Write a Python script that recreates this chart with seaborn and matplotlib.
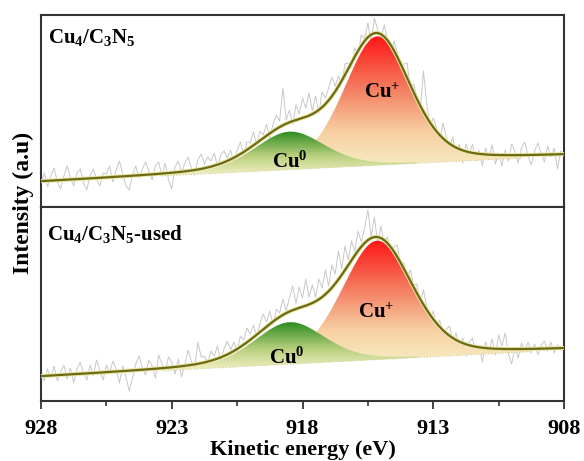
import numpy as np
import pandas as pd
import matplotlib
matplotlib.use("Agg")
import matplotlib.pyplot as plt
import matplotlib.patheffects as pe
from matplotlib.colors import LinearSegmentedColormap
import seaborn as sns

# ---------------------------------------------------------------- data
# kinetic-energy axis of the Cu LMM scan (0.125 eV step)
energy = np.linspace(928.0, 908.0, 161)

sample_labels = [r"$\mathbf{Cu_4/C_3N_5}$", r"$\mathbf{Cu_4/C_3N_5}$-used"]

# measured counts (a.u.)
raw_fresh = [
    23, 34, 20, 31, 39, 25, 18, 31, 41, 30,
    21, 34, 38, 24, 17, 31, 38, 28, 21, 34,
    33, 41, 25, 37, 46, 33, 21, 17, 32, 41,
    29, 38, 45, 36, 27, 41, 45, 31, 44, 27,
    18, 40, 46, 34, 44, 50, 39, 32, 47, 53,
    43, 50, 46, 54, 41, 52, 56, 49, 57, 45,
    57, 65, 52, 65, 64, 75, 62, 76, 72, 83,
    69, 83, 92, 86, 119, 87, 97, 83, 102, 93,
    109, 99, 114, 96, 111, 94, 115, 109, 119, 130,
    121, 131, 123, 143, 144, 139, 159, 153, 172, 168,
    184, 165, 189, 177, 169, 182, 167, 152, 166, 154,
    137, 143, 144, 119, 123, 110, 96, 136, 103, 81,
    89, 79, 67, 84, 70, 61, 70, 50, 63, 44,
    63, 53, 63, 46, 57, 41, 59, 49, 62, 43,
    54, 41, 57, 46, 63, 55, 44, 59, 65, 51,
    42, 56, 64, 54, 45, 61, 50, 59, 38, 56,
    51,
]
raw_used = [
    29, 20, 32, 23, 35, 20, 29, 36, 22, 33,
    18, 32, 39, 28, 21, 36, 25, 41, 30, 21,
    36, 28, 40, 32, 18, 35, 24, 10, 23, 37,
    45, 33, 26, 41, 35, 23, 46, 37, 30, 44,
    39, 27, 42, 24, 37, 51, 40, 32, 59, 44,
    45, 38, 50, 45, 55, 40, 52, 60, 51, 59,
    49, 65, 61, 73, 67, 76, 64, 78, 87, 79,
    90, 76, 92, 88, 102, 90, 103, 115, 98, 114,
    103, 122, 104, 116, 104, 122, 113, 131, 115, 136,
    127, 150, 132, 155, 141, 160, 150, 170, 159, 173,
    191, 164, 184, 158, 175, 158, 164, 147, 154, 156,
    134, 138, 123, 131, 116, 117, 97, 111, 95, 81,
    90, 75, 81, 63, 72, 75, 60, 68, 50, 63,
    45, 59, 63, 47, 56, 39, 59, 50, 62, 46,
    66, 55, 68, 47, 37, 54, 43, 58, 50, 59,
    48, 57, 46, 56, 60, 50, 59, 48, 56, 51,
    57,
]
raw_counts = [raw_fresh, raw_used]

# fitted components (linear background + Gaussian-Lorentzian peaks)
bg_at_928 = [25.0, 24.0]
bg_at_908 = [51.0, 51.0]
cu0_center = [918.5, 918.5]
cu0_height = [38.0, 42.0]
cu0_fwhm = [3.2, 3.2]
cup_center = [915.15, 915.15]
cup_height = [129.0, 119.0]
cup_fwhm = [3.0, 3.2]
lorentz_frac = 0.3

panel_ylim = [192, 194]
cup_label_pos = [(914.95, 114), (915.2, 88)]
cu0_label_pos = [(918.5, 45), (918.6, 43)]

x_ticks = [928, 923, 918, 913, 908]


# ---------------------------------------------------------------- helpers
def gl_peak(x, center, height, fwhm, m):
    t = (x - center) / fwhm
    gauss = np.exp(-4.0 * np.log(2.0) * t ** 2)
    lorentz = 1.0 / (1.0 + 4.0 * t ** 2)
    return height * ((1.0 - m) * gauss + m * lorentz)


def gradient_fill(ax, x, lower, upper, stops, zorder):
    poly = ax.fill_between(x, lower, upper, facecolor="none",
                           edgecolor="none", zorder=zorder)
    path = poly.get_paths()[0]
    cmap = LinearSegmentedColormap.from_list("fill", stops)
    grad = np.linspace(0.0, 1.0, 256).reshape(-1, 1)
    im = ax.imshow(grad, cmap=cmap, aspect="auto", origin="lower",
                   extent=[x.min(), x.max(), lower.min(), upper.max()],
                   interpolation="bilinear", zorder=zorder)
    im.set_clip_path(path, transform=ax.transData)


red_stops = [(0.0, "#f8f1c8"), (0.3, "#f7cfa2"), (0.62, "#f47c60"), (1.0, "#ff1616")]
green_stops = [(0.0, "#f4f1c6"), (0.45, "#b9d07e"), (1.0, "#2b8b1f")]

# ---------------------------------------------------------------- style
sns.set_style("ticks")
plt.rcParams["font.family"] = ["Liberation Serif", "DejaVu Serif"]
plt.rcParams["font.weight"] = "bold"
plt.rcParams["text.color"] = "black"
plt.rcParams["xtick.color"] = "black"
plt.rcParams["axes.labelcolor"] = "black"
plt.rcParams["mathtext.fontset"] = "custom"
plt.rcParams["mathtext.rm"] = "Liberation Serif:bold"
plt.rcParams["mathtext.bf"] = "Liberation Serif:bold"
plt.rcParams["mathtext.it"] = "Liberation Serif:bold"
plt.rcParams["axes.linewidth"] = 1.5
plt.rcParams["axes.edgecolor"] = "#333333"

fig = plt.figure(figsize=(5.84, 4.61), dpi=100)
ax_w = 523 / 584
ax_l = 41 / 584
axes = [
    fig.add_axes([ax_l, 1 - 207 / 461, ax_w, 192 / 461]),
    fig.add_axes([ax_l, 1 - 401 / 461, ax_w, 194 / 461]),
]

for k, ax in enumerate(axes):
    bg = bg_at_928[k] + (bg_at_908[k] - bg_at_928[k]) * (928.0 - energy) / 20.0
    p0 = gl_peak(energy, cu0_center[k], cu0_height[k], cu0_fwhm[k], lorentz_frac)
    p1 = gl_peak(energy, cup_center[k], cup_height[k], cup_fwhm[k], lorentz_frac)
    envelope = bg + p0 + p1

    # Cu+ component first, Cu0 on top of it
    m1 = p1 > 0.02 * cup_height[k]
    gradient_fill(ax, energy[m1], bg[m1], (bg + p1)[m1], red_stops, 2)
    m0 = p0 > 0.03 * cu0_height[k]
    gradient_fill(ax, energy[m0], bg[m0], (bg + p0)[m0], green_stops, 3)
    span = m0 | m1
    ax.plot(energy[span], bg[span], ls=(0, (1, 2)), lw=0.7,
            color="#cfc79a", zorder=3.5)

    df = pd.DataFrame({"energy": energy, "counts": raw_counts[k],
                       "fit": envelope})
    sns.lineplot(data=df, x="energy", y="counts", ax=ax, color="#c8c8c8",
                 lw=0.7, zorder=1, estimator=None, sort=False)
    sns.lineplot(data=df, x="energy", y="fit", ax=ax, color="#6c6a12",
                 lw=1.6, zorder=4, estimator=None, sort=False,
                 path_effects=[pe.Stroke(linewidth=3.0, foreground="#e9e6a8"),
                               pe.Normal()])

    ax.text(*cup_label_pos[k], r"$\mathbf{Cu^{+}}$", fontsize=15,
            ha="center", va="center", zorder=6)
    ax.text(*cu0_label_pos[k], r"$\mathbf{Cu^{0}}$", fontsize=15,
            ha="center", va="center", zorder=6)

    ax.set_xlim(928, 908)
    ax.set_ylim(0, panel_ylim[k])
    ax.set_yticks([])
    ax.set_xlabel("")
    ax.set_ylabel("")
    for side in ax.spines.values():
        side.set_visible(True)
        side.set_linewidth(1.5)
        side.set_color("#333333")

axes[0].text(0.013, 0.94, sample_labels[0], transform=axes[0].transAxes,
             fontsize=15, ha="left", va="top")
axes[1].text(0.011, 0.92, sample_labels[1], transform=axes[1].transAxes,
             fontsize=15, ha="left", va="top", fontweight="bold")

axes[0].tick_params(axis="x", which="both", bottom=False, labelbottom=False)
ax = axes[1]
ax.set_xticks(x_ticks)
ax.set_xticks([925.5, 920.5, 915.5, 910.5], minor=True)
ax.set_xticklabels([str(t) for t in x_ticks], fontsize=16, fontweight="bold")
ax.tick_params(axis="x", which="major", direction="out", length=6,
               width=1.3, color="#333333", labelcolor="black", pad=7)
ax.tick_params(axis="x", which="minor", direction="out", length=3.5,
               width=1.2, color="#333333")
ax.set_xlabel("Kinetic energy (eV)", fontsize=16, fontweight="bold",
              labelpad=1, color="black")

fig.text(23 / 584, 1 - 203 / 461, "Intensity (a.u)", rotation=90,
         fontsize=17, fontweight="bold", ha="center", va="center",
         color="black")

fig.savefig("out.png", dpi=100, facecolor="white")
